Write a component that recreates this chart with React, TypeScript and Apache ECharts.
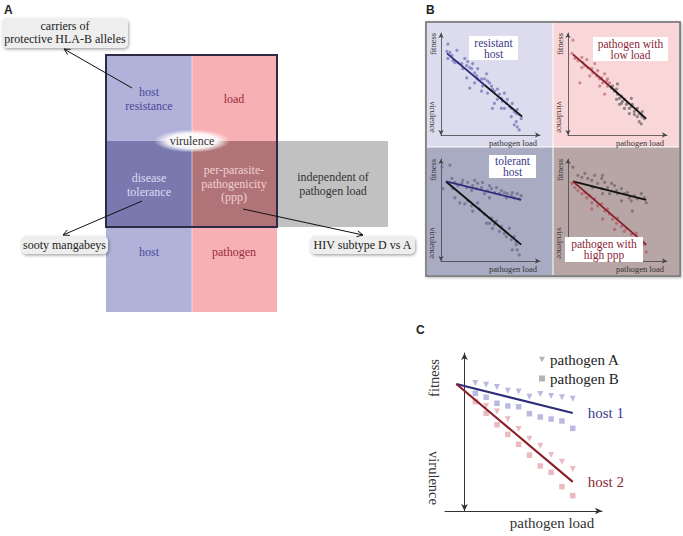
import React, { useEffect, useRef } from "react";
import * as echarts from "echarts";

const SERIF = "'Liberation Serif', 'Times New Roman', serif";
const SANS = "'Liberation Sans', Arial, sans-serif";

// ---------------- Panel B data: [pathogen load, fitness] on 0..100 scales ----------------
const resistantHostPoints = [
  [7, 89], [6, 82], [9, 81], [16, 83], [11, 78], [7, 75], [12, 73], [14, 71], [17, 71], [21, 70],
  [24, 75], [26, 68], [27, 72], [29, 66], [31, 65], [32, 70], [34, 61], [36, 58], [37, 65], [41, 55],
  [44, 55], [46, 60], [47, 53], [49, 51], [51, 48], [52, 45], [54, 43], [57, 45], [59, 40], [61, 36],
  [62, 33], [64, 41], [66, 31], [67, 35], [69, 28], [71, 26], [72, 31], [74, 23], [76, 21], [77, 25],
  [79, 20], [81, 16], [76, 13], [77, 8], [79, 5], [74, 10], [34, 51], [29, 46], [41, 43], [54, 31],
  [52, 26], [61, 26], [22, 65], [26, 56], [37, 55], [42, 48], [47, 41], [57, 35], [64, 26], [71, 18],
];
const resistantHostLine = [[6, 80], [44, 49]];
const resistantBaselineLine = [[44, 49], [82, 18]];

const lowLoadPathogenPoints = [
  [5, 93], [4, 80], [7, 75], [10, 73], [14, 76], [15, 71], [17, 68], [19, 74], [20, 66], [12, 51],
  [24, 65], [25, 61], [27, 70], [29, 58], [30, 63], [32, 55], [34, 56], [35, 51], [37, 60], [39, 53],
  [37, 40], [40, 48], [42, 51], [44, 46], [14, 66], [22, 58], [32, 48], [40, 55],
];
const lowLoadOtherPoints = [
  [45, 48], [47, 43], [49, 45], [50, 40], [52, 36], [54, 38], [49, 35], [55, 33], [57, 35], [59, 30],
  [60, 31], [62, 26], [64, 28], [65, 30], [67, 23], [69, 25], [70, 26], [72, 21], [74, 20], [75, 18],
  [77, 16], [72, 13], [74, 11], [67, 20], [62, 21], [57, 26], [52, 30], [54, 31], [64, 36], [70, 18],
  [75, 23], [50, 50],
];
const lowLoadPathogenLine = [[5, 79], [42, 48]];
const lowLoadBaselineLine = [[42, 48], [79, 16]];

const tolerantHostPoints = [
  [1, 92], [9, 94], [2, 71], [11, 81], [14, 77], [17, 74], [21, 76], [22, 79], [26, 72], [27, 77],
  [31, 69], [32, 74], [34, 79], [36, 71], [37, 76], [41, 72], [42, 77], [44, 66], [47, 69], [49, 74],
  [51, 71], [54, 67], [56, 72], [59, 66], [61, 69], [64, 67], [66, 62], [67, 66], [71, 64], [72, 67],
  [74, 62], [77, 66], [79, 61], [81, 64], [49, 62], [19, 57], [12, 71],
  [14, 62], [24, 56], [27, 59], [31, 54], [32, 49], [37, 57], [39, 51], [44, 46], [46, 37], [49, 37],
  [51, 42], [54, 36], [52, 32], [56, 39], [59, 29], [61, 34], [64, 27], [66, 24], [69, 32], [71, 21],
  [74, 24], [76, 19], [77, 11], [72, 11], [79, 6], [76, 16],
];
const tolerantHostLine = [[5, 78], [81, 60]];
const tolerantBaselineLine = [[5, 78], [81, 16]];

const highPppOtherPoints = [
  [5, 92], [10, 84], [14, 82], [17, 86], [20, 81], [24, 79], [27, 84], [30, 76], [34, 81], [35, 84],
  [37, 77], [40, 72], [44, 76], [47, 74], [49, 69], [50, 66], [54, 71], [57, 66], [60, 67], [62, 62],
  [64, 59], [67, 64], [70, 61], [74, 66], [77, 62], [79, 57], [34, 71], [42, 66], [54, 59], [65, 49],
  [25, 72], [35, 66],
];
const highPppPathogenPoints = [
  [4, 76], [7, 72], [10, 69], [14, 66], [17, 67], [19, 62], [22, 64], [24, 57], [27, 61], [30, 54],
  [34, 56], [37, 49], [40, 51], [42, 46], [45, 41], [49, 37], [50, 42], [54, 34], [57, 29], [59, 32],
  [64, 26], [65, 22], [69, 27], [72, 21], [75, 19], [77, 16], [74, 12], [79, 9], [24, 51], [35, 41],
  [47, 31], [59, 17], [54, 22],
];
const highPppBaselineLine = [[5, 78], [79, 60]];
const highPppPathogenLine = [[5, 78], [79, 16]];

// ---------------- Panel C data ----------------
const pathogenLoadLevels = [1, 2, 3, 4, 5, 6, 7, 8, 9, 10];
const host1PathogenA = [81, 79.9, 78.5, 76.1, 75.7, 72.3, 74.1, 72.8, 72, 71.1];
const host1PathogenB = [74.5, 72, 68.2, 66.5, 66, 61.6, 59.5, 58.2, 57, 52.3];
const host2PathogenA = [null, 66.5, 62.9, 58, 51.9, 45.8, 41.3, 35.4, 31.2, 26.6];
const host2PathogenB = [69.2, 61.8, 54.6, 48.5, 42.2, 35.3, 28.5, 24.5, 15.4, 9.7];
const host1Line = [[-0.75, 80.4], [10, 62]];
const host2Line = [[-0.75, 80.4], [10, 18.4]];

const pair = (ys: (number | null)[]) =>
  pathogenLoadLevels.map((x, i) => (ys[i] == null ? null : [x, ys[i]])).filter((d) => d) as number[][];

// ---------------- helpers ----------------
function txt(text: string, x: number, y: number, o: any = {}) {
  return {
    type: "text",
    x,
    y,
    rotation: o.rotation || 0,
    z: o.z ?? 30,
    style: {
      text,
      fontFamily: o.family || SERIF,
      fontSize: o.size || 11.5,
      fontWeight: o.weight || "normal",
      fill: o.fill || "#222",
      align: o.align || "center",
      verticalAlign: o.valign || "middle",
      lineHeight: o.lineHeight || 14,
    },
  };
}

function arrow(x1: number, y1: number, x2: number, y2: number) {
  const dx = x2 - x1, dy = y2 - y1;
  const L = Math.sqrt(dx * dx + dy * dy);
  const ux = dx / L, uy = dy / L;
  const px = -uy, py = ux;
  const bx = x2 - ux * 6, by = y2 - uy * 6;
  return [
    { type: "line", z: 25, shape: { x1, y1, x2, y2 }, style: { stroke: "#111", lineWidth: 1 } },
    {
      type: "polyline",
      z: 25,
      shape: { points: [[bx + px * 3, by + py * 3], [x2, y2], [bx - px * 3, by - py * 3]] },
      style: { stroke: "#111", lineWidth: 1, fill: null },
    },
  ];
}

function callout(x: number, y: number, w: number, h: number) {
  return {
    type: "rect",
    z: 20,
    shape: { x, y, width: w, height: h, r: 5 },
    style: { fill: "#eeeeee", shadowBlur: 3, shadowColor: "rgba(0,0,0,0.35)", shadowOffsetX: 1, shadowOffsetY: 1.5 },
  };
}

function rect(x: number, y: number, w: number, h: number, fill: string, z = 1) {
  return { type: "rect", z, shape: { x, y, width: w, height: h }, style: { fill } };
}

const BLUE_TXT = "#4a4a9a";
const RED_TXT = "#9a2a3a";

function buildGraphics() {
  const g: any[] = [];
  // panel letters
  g.push(txt("A", 4, 3, { family: SANS, weight: "bold", size: 12, align: "left", valign: "top" }));
  g.push(txt("B", 426, 3, { family: SANS, weight: "bold", size: 12, align: "left", valign: "top" }));
  g.push(txt("C", 416, 323, { family: SANS, weight: "bold", size: 12, align: "left", valign: "top" }));

  // ---- Panel A diagram
  g.push(rect(106, 55, 86, 86, "#b1b1d9"));
  g.push(rect(106, 141, 86, 86, "#7979b0"));
  g.push(rect(106, 227, 86, 85, "#b1b1d9"));
  g.push(rect(192, 55, 85, 86, "#f7b1b5"));
  g.push(rect(192, 141, 85, 86, "#b07478"));
  g.push(rect(192, 227, 85, 85, "#f7b1b5"));
  g.push(rect(277, 141, 111, 86, "#c1c1c1"));
  g.push({ type: "line", z: 2, shape: { x1: 192, y1: 55, x2: 192, y2: 312 }, style: { stroke: "rgba(255,255,255,0.5)", lineWidth: 1 } });
  g.push({
    type: "rect",
    z: 3,
    shape: { x: 106, y: 55, width: 171, height: 172 },
    style: { fill: null, stroke: "#2b2b45", lineWidth: 2 },
  });
  g.push({
    type: "ellipse",
    z: 4,
    shape: { cx: 192, cy: 141, rx: 38, ry: 11.5 },
    style: {
      fill: new echarts.graphic.RadialGradient(0.5, 0.5, 0.5, [
        { offset: 0, color: "rgba(255,255,255,1)" },
        { offset: 0.65, color: "rgba(255,255,255,0.9)" },
        { offset: 1, color: "rgba(255,255,255,0)" },
      ]),
    },
  });
  g.push(txt("host\nresistance", 149, 99, { fill: BLUE_TXT, size: 12 }));
  g.push(txt("load", 234, 99, { fill: RED_TXT, size: 12 }));
  g.push(txt("virulence", 192, 141, { fill: "#333", size: 12 }));
  g.push(txt("disease\ntolerance", 149, 184.5, { fill: "#dcdcf2", size: 12 }));
  g.push(txt("per-parasite-\npathogenicity\n(ppp)", 234, 183.5, { fill: "#f2cfd2", lineHeight: 13.5, size: 12 }));
  g.push(txt("independent of\npathogen load", 333, 183.5, { fill: "#333", size: 12 }));
  g.push(txt("host", 149, 252, { fill: BLUE_TXT, size: 12 }));
  g.push(txt("pathogen", 234, 252, { fill: RED_TXT, size: 12 }));

  // callouts
  g.push(callout(2, 18, 126, 30));
  g.push(txt("carriers of\nprotective HLA-B alleles", 65, 32, { fill: "#222", lineHeight: 13, size: 12 }));
  g.push(...arrow(132, 88, 64, 49));
  g.push(callout(21, 236, 87, 18));
  g.push(txt("sooty mangabeys", 64.5, 245, { fill: "#222", size: 12 }));
  g.push(...arrow(142, 201, 63, 235));
  g.push(callout(310, 236, 105, 18));
  g.push(txt("HIV subtype D vs A", 362.5, 245, { fill: "#222", size: 12 }));
  g.push(...arrow(243, 209, 363, 235));

  // ---- Panel B frame & backgrounds
  g.push({
    type: "rect",
    z: 0,
    shape: { x: 426, y: 22, width: 254, height: 254 },
    style: { fill: "#ffffff", stroke: "#666", lineWidth: 1.5, shadowBlur: 3, shadowColor: "rgba(0,0,0,0.3)", shadowOffsetX: 1, shadowOffsetY: 1 },
  });
  g.push(rect(427, 23, 125.5, 123.5, "#dcdcee", 0));
  g.push(rect(553.5, 23, 125.5, 123.5, "#f9d6d7", 0));
  g.push(rect(427, 147.5, 125.5, 127.5, "#a9abc3", 0));
  g.push(rect(553.5, 147.5, 125.5, 127.5, "#b8a5a6", 0));

  const offs = [[0, 0], [127, 0], [0, 126], [127, 126]];
  offs.forEach(([dx, dy]) => {
    g.push(txt("fitness", 433 + dx, 44 + dy, { size: 8.5, rotation: Math.PI / 2, fill: "#333" }));
    g.push(txt("virulence", 433 + dx, 117 + dy, { size: 8.5, rotation: -Math.PI / 2, fill: "#333" }));
    g.push(txt("pathogen load", 537 + dx, 143 + dy, { size: 8.5, align: "right", fill: "#333" }));
  });

  const box = (x: number, y: number, w: number, h: number, l1: string, l2: string, fill: string) => {
    g.push({ type: "rect", z: 40, shape: { x, y, width: w, height: h }, style: { fill: "#ffffff" } });
    g.push(txt(l1, x + w / 2, y + h / 2 - 5.5, { size: 11.5, fill, lineHeight: 11, z: 41 }));
    g.push(txt(l2, x + w / 2, y + h / 2 + 5.5, { size: 11.5, fill, lineHeight: 11, z: 41 }));
  };
  box(469, 36, 49, 24, "resistant", "host", "#3a3a8a");
  box(593, 37, 75, 24, "pathogen with", "low load", "#8a2535");
  box(489, 155, 47, 23, "tolerant", "host", "#3a3a8a");
  box(565, 237, 78, 25, "pathogen with", "high ppp", "#8a2535");

  // ---- Panel C axis titles
  g.push(txt("fitness", 434, 378, { size: 14.5, rotation: Math.PI / 2, fill: "#333" }));
  g.push(txt("virulence", 434, 478, { size: 14.5, rotation: -Math.PI / 2, fill: "#333" }));
  g.push(txt("pathogen load", 552, 523, { size: 15, fill: "#333" }));
  return g;
}

// ---------------- axes ----------------
const bGrids = [
  { left: 441, top: 33, width: 99, height: 102 },
  { left: 568, top: 33, width: 99, height: 102 },
  { left: 441, top: 159, width: 99, height: 102 },
  { left: 568, top: 159, width: 99, height: 102 },
];

const axisCommon = (gridIndex: number, min: number, max: number, symbol: string[], size: number[], color: string, width: number) => ({
  type: "value",
  gridIndex,
  min,
  max,
  z: 5,
  axisLine: { show: true, symbol, symbolSize: size, lineStyle: { color, width } },
  axisTick: { show: false },
  axisLabel: { show: false },
  splitLine: { show: false },
});

function scatterB(name: string, idx: number, data: number[][], color: string) {
  return {
    name,
    type: "scatter",
    xAxisIndex: idx,
    yAxisIndex: idx,
    data,
    symbolSize: 3.2,
    z: 6,
    itemStyle: { color, opacity: 0.85 },
    silent: true,
  };
}
function lineB(name: string, idx: number, data: number[][], color: string) {
  return {
    name,
    type: "line",
    xAxisIndex: idx,
    yAxisIndex: idx,
    data,
    symbol: "none",
    z: 7,
    lineStyle: { color, width: 1.8 },
    silent: true,
  };
}

export default function App() {
  const ref = useRef<HTMLDivElement>(null);
  useEffect(() => {
    const chart = echarts.init(ref.current!, null, { renderer: "svg" });
    const option: any = {
      animation: false,
      backgroundColor: "#ffffff",
      grid: [...bGrids, { left: 445, top: 353, width: 157, height: 158 }],
      xAxis: [
        ...bGrids.map((_, i) => axisCommon(i, 0, 100, ["none", "arrow"], [4, 5], "#444", 0.8)),
        axisCommon(4, -1.8, 12.7, ["none", "arrow"], [5, 7], "#333", 1),
      ],
      yAxis: [
        ...bGrids.map((_, i) => axisCommon(i, 0, 100, ["arrow", "arrow"], [4, 5], "#444", 0.8)),
        axisCommon(4, 0, 100, ["arrow", "arrow"], [5, 7], "#333", 1),
      ],
      legend: {
        data: [
          { name: "pathogen A", icon: "path://M0,0L10,0L5,9Z", itemStyle: { color: "#a0a0a8" } },
          { name: "pathogen B", icon: "rect", itemStyle: { color: "#a0a0a8" } },
        ],
        orient: "vertical",
        left: 534,
        top: 347,
        itemWidth: 6,
        itemHeight: 6,
        itemGap: 4,
        selectedMode: false,
        textStyle: { fontFamily: SERIF, fontSize: 15, color: "#222", lineHeight: 15 },
      },
      graphic: { elements: buildGraphics() },
      series: [
        // B top-left: resistant host
        scatterB("resistant host", 0, resistantHostPoints, "#8181bf"),
        lineB("resistant host fit", 0, resistantHostLine, "#2b2b80"),
        lineB("resistant baseline", 0, resistantBaselineLine, "#111111"),
        // B top-right: pathogen with low load
        scatterB("low-load pathogen", 1, lowLoadPathogenPoints, "#c47c88"),
        scatterB("low-load others", 1, lowLoadOtherPoints, "#7d7777"),
        lineB("low-load fit", 1, lowLoadPathogenLine, "#8b1f2a"),
        lineB("low-load baseline", 1, lowLoadBaselineLine, "#111111"),
        // B bottom-left: tolerant host
        scatterB("tolerant host", 2, tolerantHostPoints, "#6f7290"),
        lineB("tolerant baseline", 2, tolerantBaselineLine, "#111111"),
        lineB("tolerant host fit", 2, tolerantHostLine, "#2b2b80"),
        // B bottom-right: pathogen with high ppp
        scatterB("high-ppp others", 3, highPppOtherPoints, "#7a6c6d"),
        scatterB("high-ppp pathogen", 3, highPppPathogenPoints, "#b0646c"),
        lineB("high-ppp baseline", 3, highPppBaselineLine, "#111111"),
        lineB("high-ppp fit", 3, highPppPathogenLine, "#8b1f2a"),
        // C
        {
          name: "pathogen A", type: "scatter", xAxisIndex: 4, yAxisIndex: 4, data: pair(host1PathogenA),
          symbol: "triangle", symbolRotate: 180, symbolSize: 6, z: 6, itemStyle: { color: "#a9a9d9" },
        },
        {
          name: "pathogen B", type: "scatter", xAxisIndex: 4, yAxisIndex: 4, data: pair(host1PathogenB),
          symbol: "rect", symbolSize: 5.5, z: 6, itemStyle: { color: "#a9a9d9" },
        },
        {
          name: "pathogen A", type: "scatter", xAxisIndex: 4, yAxisIndex: 4, data: pair(host2PathogenA),
          symbol: "triangle", symbolRotate: 180, symbolSize: 6, z: 6, itemStyle: { color: "#e5a9b1" },
        },
        {
          name: "pathogen B", type: "scatter", xAxisIndex: 4, yAxisIndex: 4, data: pair(host2PathogenB),
          symbol: "rect", symbolSize: 5.5, z: 6, itemStyle: { color: "#e5a9b1" },
        },
        {
          name: "host 1", type: "line", xAxisIndex: 4, yAxisIndex: 4, data: host1Line, symbol: "none", z: 7,
          lineStyle: { color: "#2e2e78", width: 2.2 },
          endLabel: { show: true, formatter: "host 1", distance: 15, color: "#3a3a8a", fontSize: 15, fontFamily: SERIF },
        },
        {
          name: "host 2", type: "line", xAxisIndex: 4, yAxisIndex: 4, data: host2Line, symbol: "none", z: 7,
          lineStyle: { color: "#8b1f2a", width: 2.2 },
          endLabel: { show: true, formatter: "host 2", distance: 15, color: "#8b2a35", fontSize: 15, fontFamily: SERIF },
        },
      ],
    };
    chart.setOption(option);
    return () => chart.dispose();
  }, []);
  return <div ref={ref} style={{ position: "absolute", left: 0, top: 0, width: 683, height: 536 }} />;
}
